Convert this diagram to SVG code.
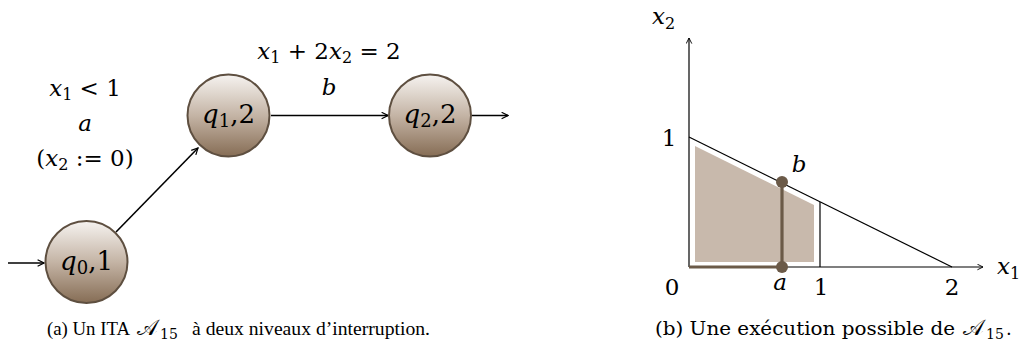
<svg xmlns="http://www.w3.org/2000/svg" width="1023" height="352" viewBox="0 0 1023 352">
<style>
.m{font-family:"DejaVu Serif",serif;font-style:italic;font-size:23px;fill:#000}
.r{font-family:"DejaVu Serif",serif;font-size:23px;fill:#000}
.nl{font-family:"DejaVu Serif",serif;font-style:italic;font-size:26px;fill:#000}
.sub{font-size:16px}
.nsub{font-size:18px}
.cap{font-family:"DejaVu Serif",serif;font-size:18px;fill:#000}
.capa{font-family:"Liberation Serif","DejaVu Serif",serif;font-size:18.5px;fill:#000}
.cs{font-family:"DejaVu Serif",serif;font-size:14px;fill:#000}
.scr{font-family:"DejaVu Serif","Noto Sans",serif;font-size:22px;fill:#000}
.node{fill:url(#g);stroke:#5e4f40;stroke-width:2}
.edge{stroke:#000;stroke-width:1.6;fill:none;marker-end:url(#ar)}
.ax{stroke:#000;stroke-width:1.2;fill:none}
</style>
<defs>
<linearGradient id="g" x1="0" y1="0" x2="0" y2="1">
<stop offset="0" stop-color="#f6f3f0"/>
<stop offset="0.5" stop-color="#c4b4a5"/>
<stop offset="1" stop-color="#866d55"/>
</linearGradient>
<marker id="ar" viewBox="0 0 10 10" refX="9" refY="5" markerWidth="8" markerHeight="8" markerUnits="userSpaceOnUse" orient="auto">
<path d="M1,1 L9,5 L1,9" fill="none" stroke="#000" stroke-width="1.5"/>
</marker>
<marker id="ar2" viewBox="0 0 10 10" refX="9" refY="5" markerWidth="7" markerHeight="7" markerUnits="userSpaceOnUse" orient="auto">
<path d="M1,1 L9,5 L1,9" fill="none" stroke="#000" stroke-width="1.3"/>
</marker>
</defs>
<g id="connectors">
<line class="edge" x1="8" y1="263" x2="44" y2="263"/>
<line class="edge" x1="116" y1="232" x2="198" y2="148"/>
<line class="edge" x1="271" y1="115.5" x2="388" y2="115.5"/>
<line class="edge" x1="472" y1="115.5" x2="508" y2="115.5"/>
</g>
<g id="q0"><circle class="node" cx="86.5" cy="262" r="41"/><text class="nl" x="86.5" y="270" text-anchor="middle">q<tspan class="nsub" font-style="normal" dy="4">0</tspan><tspan font-style="normal" dy="-4">,1</tspan></text></g>
<g id="q1"><circle class="node" cx="228.5" cy="115.5" r="41"/><text class="nl" x="228.5" y="123" text-anchor="middle">q<tspan class="nsub" font-style="normal" dy="4">1</tspan><tspan font-style="normal" dy="-4">,2</tspan></text></g>
<g id="q2"><circle class="node" cx="430" cy="115.5" r="41"/><text class="nl" x="430" y="123" text-anchor="middle">q<tspan class="nsub" font-style="normal" dy="4">2</tspan><tspan font-style="normal" dy="-4">,2</tspan></text></g>
<g id="labels">
<text class="m" x="85" y="96" text-anchor="middle">x<tspan class="sub" font-style="normal" dy="4">1</tspan><tspan font-style="normal" dy="-4"> &lt; 1</tspan></text>
<text class="m" x="85" y="131" text-anchor="middle">a</text>
<text class="r" x="85" y="166" text-anchor="middle">(<tspan font-style="italic">x</tspan><tspan class="sub" dy="4">2</tspan><tspan dy="-4"> := 0)</tspan></text>
<text class="m" x="329" y="59" text-anchor="middle">x<tspan class="sub" font-style="normal" dy="4">1</tspan><tspan font-style="normal" dy="-4"> + 2</tspan>x<tspan class="sub" font-style="normal" dy="4">2</tspan><tspan font-style="normal" dy="-4"> = 2</tspan></text>
<text class="m" x="329" y="95" text-anchor="middle">b</text>
</g>
<g id="plot">
<polygon points="695,146 814,205 814,262 695,262" fill="#c8b9ac"/>
<line class="ax" x1="689" y1="267" x2="983" y2="267" marker-end="url(#ar2)"/>
<line class="ax" x1="689" y1="267" x2="689" y2="38" marker-end="url(#ar2)"/>
<line class="ax" x1="689" y1="137" x2="952" y2="267"/>
<line class="ax" x1="820" y1="267" x2="820" y2="202"/>
<polyline points="689,267 782,267 782,182" fill="none" stroke="#6b5a48" stroke-width="3.2"/>
<circle cx="782" cy="182" r="6" fill="#6b5a48"/>
<circle cx="782" cy="267" r="6" fill="#6b5a48"/>
<text class="m" x="652" y="24">x<tspan class="sub" font-style="normal" dy="5">2</tspan></text>
<text class="m" x="997" y="274">x<tspan class="sub" font-style="normal" dy="5">1</tspan></text>
<text class="r" x="669" y="146" text-anchor="middle">1</text>
<text class="m" x="799" y="172" text-anchor="middle">b</text>
<text class="r" x="672" y="295" text-anchor="middle">0</text>
<text class="m" x="780" y="290" text-anchor="middle">a</text>
<text class="r" x="821" y="295" text-anchor="middle">1</text>
<text class="r" x="952" y="295" text-anchor="middle">2</text>
</g>
<g id="captions">
<text class="capa" x="47" y="335" textLength="83" lengthAdjust="spacingAndGlyphs">(a) Un ITA</text>
<text class="scr" x="137" y="335">𝒜</text>
<text class="cs" x="160" y="339">15</text>
<text class="capa" x="192" y="335" textLength="238" lengthAdjust="spacingAndGlyphs">à deux niveaux d’interruption.</text>
<text class="cap" x="655" y="335" textLength="300" lengthAdjust="spacingAndGlyphs">(b) Une exécution possible de</text>
<text class="scr" x="963" y="335">𝒜</text>
<text class="cs" x="986" y="339">15</text>
<text class="cap" x="1006" y="335">.</text>
</g>
</svg>
